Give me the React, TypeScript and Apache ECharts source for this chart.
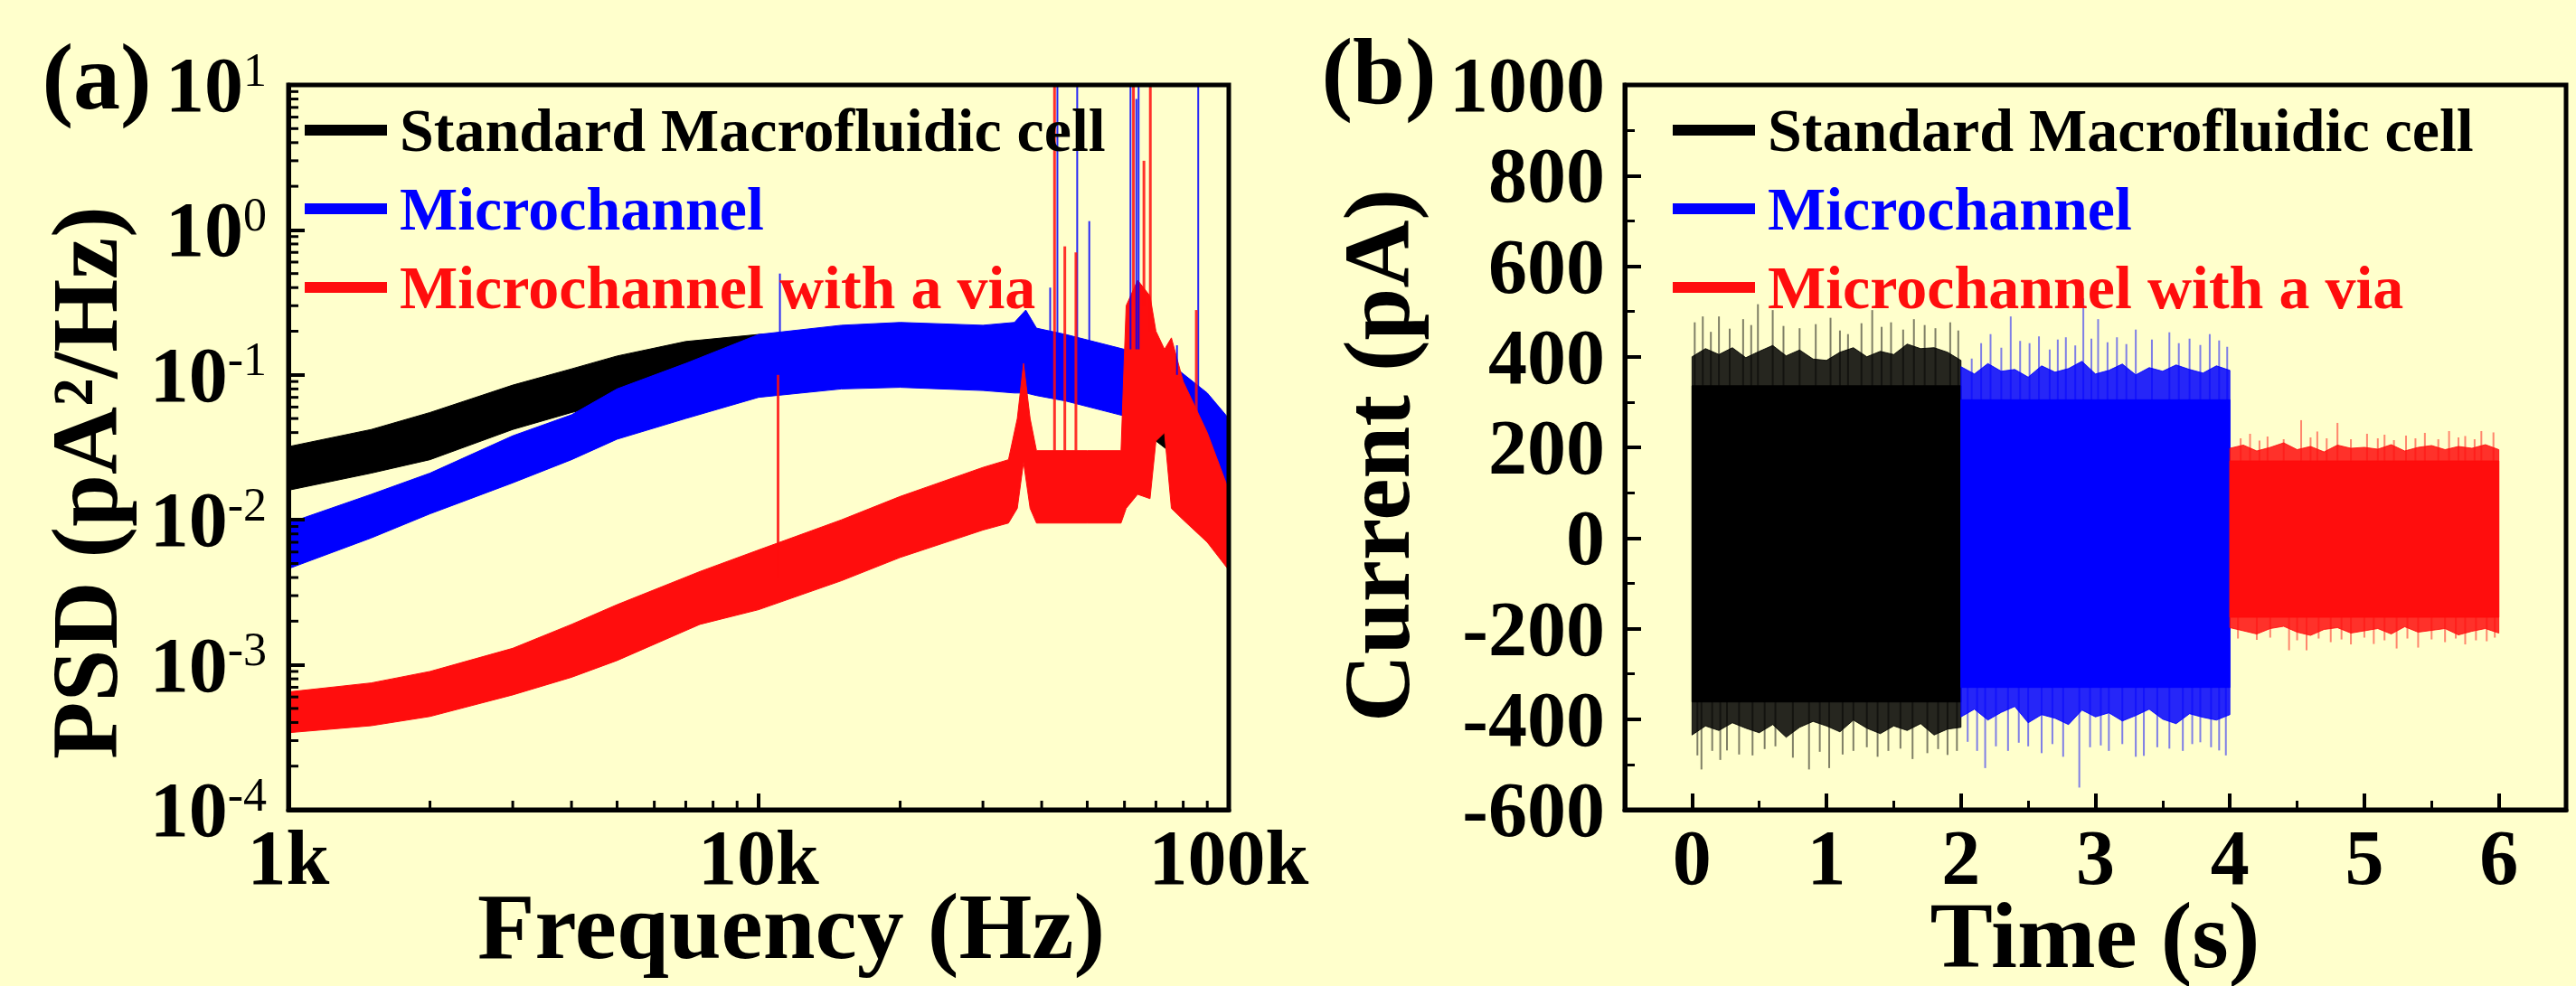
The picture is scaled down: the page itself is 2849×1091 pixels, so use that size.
import React, { useEffect, useRef } from 'react';
import * as echarts from 'echarts';

const BG = '#FFFFCC';
const SERIF = '"Liberation Serif", "Times New Roman", Times, serif';
const BLACK = '#000000';
const BLUE = '#0000FF';
const RED = '#FF0D0D';

const legendNames = ['Standard Macrofluidic cell', 'Microchannel', 'Microchannel with a via'];

// ---------- Panel (a): PSD bands (lower / upper envelope) ----------
const stdFreq = [1000, 1500, 2000, 3000, 4000, 5000, 7000, 10000, 15000, 20000, 30000, 40000, 50000, 60000, 70000, 80000, 90000, 100000];
const stdLow = [0.016, 0.021, 0.026, 0.042, 0.055, 0.065, 0.085, 0.095, 0.1, 0.1, 0.095, 0.09, 0.08, 0.065, 0.035, 0.025, 0.018, 0.012];
const stdHigh = [0.032, 0.042, 0.055, 0.085, 0.11, 0.135, 0.17, 0.19, 0.2, 0.2, 0.19, 0.17, 0.15, 0.13, 0.09, 0.06, 0.045, 0.03];

const mcFreq = [1000, 1500, 2000, 3000, 4000, 5000, 7000, 10000, 15000, 20000, 30000, 35000, 37000, 39000, 45000, 60000, 75000, 90000, 100000];
const mcLow = [0.0046, 0.0075, 0.011, 0.018, 0.026, 0.036, 0.05, 0.07, 0.08, 0.082, 0.078, 0.075, 0.075, 0.072, 0.066, 0.052, 0.039, 0.024, 0.015];
const mcHigh = [0.0095, 0.015, 0.021, 0.038, 0.053, 0.08, 0.12, 0.19, 0.22, 0.23, 0.22, 0.23, 0.28, 0.21, 0.19, 0.15, 0.12, 0.075, 0.05];

const viaFreq = [1000, 1500, 2000, 3000, 4000, 5000, 7500, 10000, 15000, 20000, 30000, 34000, 35500, 36600, 37800, 39000, 50000, 59000, 60500, 64000, 68000, 70000, 73000, 75500, 80000, 90000, 100000];
const viaLow = [0.00034, 0.00038, 0.00044, 0.00062, 0.00082, 0.00107, 0.0019, 0.0024, 0.0038, 0.0055, 0.0085, 0.0095, 0.012, 0.025, 0.012, 0.0095, 0.0095, 0.0095, 0.012, 0.015, 0.014, 0.035, 0.04, 0.012, 0.01, 0.007, 0.0045];
const viaHigh = [0.00065, 0.00075, 0.0009, 0.0013, 0.0019, 0.0026, 0.0044, 0.0062, 0.01, 0.0145, 0.023, 0.026, 0.05, 0.12, 0.05, 0.03, 0.03, 0.03, 0.3, 0.45, 0.35, 0.2, 0.15, 0.18, 0.09, 0.04, 0.016];

// narrow spectral spikes: [frequency, from, to]
const mcSpikes = [[11100, 0.1, 0.5], [41700, 0.15, 0.4], [43200, 0.15, 10], [47600, 0.15, 10], [50500, 0.15, 1.15], [61800, 0.15, 10], [63600, 0.15, 8], [64300, 0.15, 10], [77600, 0.1, 0.16], [86100, 0.06, 10]];
const viaSpikes = [[11000, 0.004, 0.1], [42600, 0.03, 10], [44800, 0.03, 0.77], [47300, 0.03, 0.7], [62700, 0.3, 10], [66000, 0.3, 3], [68100, 0.2, 10], [85300, 0.05, 0.28]];

const freqMinorTicks = [2000, 3000, 4000, 5000, 6000, 7000, 8000, 9000, 20000, 30000, 40000, 50000, 60000, 70000, 80000, 90000];
const psdMinorTicks = [
  0.0002, 0.0003, 0.0004, 0.0005, 0.0006, 0.0007, 0.0008, 0.0009,
  0.002, 0.003, 0.004, 0.005, 0.006, 0.007, 0.008, 0.009,
  0.02, 0.03, 0.04, 0.05, 0.06, 0.07, 0.08, 0.09,
  0.2, 0.3, 0.4, 0.5, 0.6, 0.7, 0.8, 0.9,
  2, 3, 4, 5, 6, 7, 8, 9,
];

// ---------- Panel (b): current traces ----------
const timeTicks = [0, 1, 2, 3, 4, 5, 6];
const timeMinorTicks = [0.5, 1.5, 2.5, 3.5, 4.5, 5.5];

const stdTime = [0, 0.1, 0.2, 0.3, 0.4, 0.5, 0.6, 0.7, 0.8, 0.9, 1.0, 1.1, 1.2, 1.3, 1.4, 1.5, 1.6, 1.7, 1.8, 1.9, 2.0];
const stdCore = [-362, 336];
const stdFuzzTop = [400, 418, 405, 420, 398, 412, 425, 402, 415, 395, 392, 410, 420, 400, 412, 405, 428, 418, 420, 410, 392];
const stdFuzzBottom = [-435, -415, -425, -408, -420, -430, -412, -440, -418, -405, -415, -428, -402, -420, -432, -415, -425, -410, -435, -422, -418];
const stdPeaksUp = [[0.02, 476], [0.08, 489], [0.14, 455], [0.2, 489], [0.28, 462], [0.38, 483], [0.44, 470], [0.49, 516], [0.6, 503], [0.68, 468], [0.8, 463], [0.92, 472], [1.03, 486], [1.1, 458], [1.16, 450], [1.26, 474], [1.34, 503], [1.41, 466], [1.48, 476], [1.57, 460], [1.65, 483], [1.73, 470], [1.81, 463], [1.92, 476], [1.98, 458]];
const stdPeaksDown = [[0.04, -480], [0.07, -511], [0.15, -470], [0.21, -490], [0.26, -469], [0.35, -478], [0.45, -480], [0.54, -466], [0.62, -460], [0.75, -485], [0.87, -511], [0.95, -472], [1.02, -508], [1.12, -478], [1.2, -470], [1.3, -462], [1.38, -483], [1.46, -470], [1.55, -465], [1.64, -488], [1.75, -475], [1.83, -466], [1.9, -479], [1.97, -470]];

const mcTime = [2.0, 2.1, 2.2, 2.3, 2.4, 2.5, 2.6, 2.7, 2.8, 2.9, 3.0, 3.1, 3.2, 3.3, 3.4, 3.5, 3.6, 3.7, 3.8, 3.9, 4.0];
const mcCore = [-330, 305];
const mcFuzzTop = [378, 362, 385, 368, 372, 355, 380, 366, 374, 390, 362, 370, 384, 360, 376, 368, 382, 372, 364, 380, 370];
const mcFuzzBottom = [-395, -378, -402, -385, -372, -408, -390, -398, -412, -380, -395, -386, -404, -392, -378, -400, -410, -388, -396, -402, -390];
const mcPeaksUp = [[2.08, 396], [2.15, 430], [2.22, 450], [2.3, 420], [2.37, 489], [2.44, 435], [2.51, 430], [2.58, 445], [2.66, 416], [2.72, 438], [2.78, 443], [2.85, 425], [2.91, 529], [2.97, 440], [3.02, 483], [3.09, 432], [3.16, 443], [3.23, 428], [3.3, 460], [3.42, 438], [3.55, 454], [3.62, 430], [3.7, 440], [3.78, 426], [3.85, 450], [3.92, 436], [3.98, 422]];
const mcPeaksDown = [[2.05, -450], [2.12, -470], [2.18, -508], [2.26, -460], [2.35, -470], [2.43, -452], [2.5, -460], [2.6, -475], [2.68, -455], [2.76, -483], [2.88, -551], [2.96, -462], [3.04, -458], [3.1, -470], [3.2, -455], [3.3, -483], [3.36, -481], [3.46, -462], [3.55, -465], [3.65, -470], [3.72, -455], [3.78, -451], [3.86, -462], [3.92, -469], [3.97, -480]];

const viaTime = [4.0, 4.1, 4.2, 4.3, 4.4, 4.5, 4.6, 4.7, 4.8, 4.9, 5.0, 5.1, 5.2, 5.3, 5.4, 5.5, 5.6, 5.7, 5.8, 5.9, 6.0];
const viaCore = [-175, 170];
const viaFuzzTop = [198, 205, 192, 200, 210, 195, 202, 190, 205, 198, 200, 196, 206, 192, 200, 204, 195, 202, 198, 206, 195];
const viaFuzzBottom = [-198, -205, -212, -200, -195, -208, -215, -202, -198, -210, -205, -200, -212, -196, -208, -204, -200, -214, -206, -200, -210];
const viaPeaksUp = [[4.08, 220], [4.15, 230], [4.22, 215], [4.28, 224], [4.4, 218], [4.53, 260], [4.6, 222], [4.65, 235], [4.72, 220], [4.8, 254], [4.9, 218], [5.02, 230], [5.1, 220], [5.15, 228], [5.22, 216], [5.31, 226], [5.38, 220], [5.45, 232], [5.55, 218], [5.63, 236], [5.7, 222], [5.75, 225], [5.82, 218], [5.87, 236], [5.96, 233]];
const viaPeaksDown = [[4.06, -222], [4.2, -225], [4.3, -220], [4.44, -248], [4.5, -226], [4.57, -248], [4.66, -222], [4.75, -230], [4.83, -224], [4.9, -235], [5.0, -220], [5.07, -234], [5.15, -226], [5.24, -244], [5.32, -222], [5.4, -242], [5.5, -224], [5.6, -230], [5.68, -222], [5.75, -235], [5.83, -226], [5.91, -228], [5.97, -220]];

// ---------- render helpers ----------
function bandRender(color: string, opacity: number) {
  return (params: any, api: any) => {
    if (params.dataIndexInside !== 0) return null;
    const n = params.dataInsideLength;
    const top: number[][] = [];
    const bot: number[][] = [];
    for (let i = 0; i < n; i++) {
      const x = api.value(0, i);
      top.push(api.coord([x, api.value(2, i)]));
      bot.push(api.coord([x, api.value(1, i)]));
    }
    return {
      type: 'polygon',
      silent: true,
      shape: { points: top.concat(bot.reverse()) },
      style: { fill: color, opacity, stroke: color, lineWidth: 1 },
    };
  };
}

function spikeRender(color: string, width: number, opacity: number) {
  return (params: any, api: any) => {
    const a = api.coord([api.value(0), api.value(1)]);
    const b = api.coord([api.value(0), api.value(2)]);
    return {
      type: 'line',
      silent: true,
      shape: { x1: a[0], y1: a[1], x2: b[0], y2: b[1] },
      style: { stroke: color, lineWidth: width, opacity },
    };
  };
}

function tickRender(dx: number, dy: number) {
  return (params: any, api: any) => {
    const p = api.coord([api.value(0), api.value(1)]);
    return {
      type: 'line',
      silent: true,
      z2: 100,
      shape: { x1: p[0], y1: p[1], x2: p[0] + dx, y2: p[1] + dy },
      style: { stroke: '#000', lineWidth: 3 },
    };
  };
}

const bandData = (x: number[], lo: number[], hi: number[]) => x.map((v, i) => [v, lo[i], hi[i]]);

function bandSeries(name: string, gi: number, data: number[][], color: string, opacity: number, clip = true) {
  return {
    type: 'custom', name, xAxisIndex: gi, yAxisIndex: gi, clip,
    renderItem: bandRender(color, opacity), data, animation: false, z: 2,
  };
}
function spikeSeries(name: string, gi: number, data: number[][], color: string, width: number, opacity: number) {
  return {
    type: 'custom', name, xAxisIndex: gi, yAxisIndex: gi, clip: true,
    renderItem: spikeRender(color, width, opacity), data, animation: false, z: 3,
  };
}
function traceSeries(name: string, time: number[], core: number[], fTop: number[], fBot: number[], up: number[][], down: number[][], color: string) {
  const t0 = time[0];
  const t1 = time[time.length - 1];
  return [
    bandSeries(name, 1, bandData(time, fBot, fTop), color, 0.85),
    bandSeries(name, 1, [[t0, core[0], core[1]], [t1, core[0], core[1]]], color, 1),
    spikeSeries(name + ' peaks', 1, up.map(([t, v]) => [t, core[1], v]), color, 2, 0.5),
    spikeSeries(name + ' peaks', 1, down.map(([t, v]) => [t, core[0], v]), color, 2, 0.5),
  ];
}

const labelFont = { fontFamily: SERIF, fontWeight: 'bold' as const, fontSize: 86, color: '#000' };
const titleFont = { fontFamily: SERIF, fontWeight: 'bold' as const, fontSize: 104, fill: '#000', lineHeight: 80 };

function legendFor(left: number) {
  const colors = [BLACK, BLUE, RED];
  return {
    orient: 'vertical', left, top: 105, itemWidth: 91, itemHeight: 12, itemGap: 19, icon: 'rect',
    selectedMode: false,
    textStyle: { fontFamily: SERIF, fontWeight: 'bold', fontSize: 68, lineHeight: 64, padding: [0, 0, 0, 9] },
    data: legendNames.map((n, i) => ({ name: n, icon: 'rect', itemStyle: { color: colors[i] }, textStyle: { color: colors[i] } })),
  };
}

const option: any = {
  animation: false,
  backgroundColor: BG,
  grid: [
    { left: 319, top: 94, width: 1040, height: 802, show: true, borderColor: '#000', borderWidth: 5, backgroundColor: 'transparent', z: 10 },
    { left: 1797, top: 94, width: 1041, height: 802, show: true, borderColor: '#000', borderWidth: 5, backgroundColor: 'transparent', z: 10 },
  ],
  legend: [legendFor(332), legendFor(1845)],
  xAxis: [
    {
      gridIndex: 0, type: 'log', logBase: 10, min: 1000, max: 100000, z: 10,
      axisLine: { show: true, onZero: false, lineStyle: { color: '#000', width: 5 } },
      axisTick: { show: true, inside: true, length: 18, lineStyle: { color: '#000', width: 4 } },
      axisLabel: { ...labelFont, lineHeight: 66, margin: 20, showMinLabel: true, showMaxLabel: true, formatter: (v: number) => (v >= 1000 ? `${Math.round(v / 1000)}k` : `${v}`) },
      splitLine: { show: false },
    },
    {
      gridIndex: 1, type: 'value', min: -0.5, max: 6.5, z: 10,
      axisLine: { show: true, onZero: false, lineStyle: { color: '#000', width: 5 } },
      axisTick: { show: true, inside: true, length: 18, lineStyle: { color: '#000', width: 4 }, customValues: timeTicks },
      axisLabel: { ...labelFont, lineHeight: 66, margin: 20, customValues: timeTicks, formatter: (v: number) => String(v) },
      splitLine: { show: false },
    },
    {
      gridIndex: 1, type: 'value', min: -0.5, max: 6.5, position: 'bottom', z: 10,
      axisLine: { show: false, onZero: false },
      axisTick: { show: true, inside: true, length: 10, lineStyle: { color: '#000', width: 3 }, customValues: timeMinorTicks },
      axisLabel: { show: false, customValues: timeMinorTicks },
      splitLine: { show: false },
    },
  ],
  yAxis: [
    {
      gridIndex: 0, type: 'log', logBase: 10, min: 0.0001, max: 10, z: 10,
      axisLine: { show: true, onZero: false, lineStyle: { color: '#000', width: 5 } },
      axisTick: { show: true, inside: true, length: 18, lineStyle: { color: '#000', width: 4 } },
      axisLabel: {
        margin: 24, showMinLabel: true, showMaxLabel: true,
        formatter: (v: number) => `{b|10}{s|${Math.round(Math.log10(v))}}`,
        rich: {
          b: { ...labelFont, lineHeight: 86 },
          s: { fontFamily: SERIF, fontWeight: 'normal', fontSize: 52, color: '#000', verticalAlign: 'top', lineHeight: 86 },
        },
      },
      splitLine: { show: false },
    },
    {
      gridIndex: 1, type: 'value', min: -600, max: 1000, interval: 200, z: 10,
      axisLine: { show: true, onZero: false, lineStyle: { color: '#000', width: 5 } },
      axisTick: { show: true, inside: true, length: 18, lineStyle: { color: '#000', width: 4 } },
      minorTick: { show: true, splitNumber: 2, length: 11, lineStyle: { color: '#000', width: 3 } },
      axisLabel: { ...labelFont, margin: 22, formatter: (v: number) => String(v) },
      splitLine: { show: false },
      minorSplitLine: { show: false },
    },
  ],
  series: [
    bandSeries(legendNames[0], 0, bandData(stdFreq, stdLow, stdHigh), BLACK, 1),
    bandSeries(legendNames[1], 0, bandData(mcFreq, mcLow, mcHigh), BLUE, 1),
    bandSeries(legendNames[2], 0, bandData(viaFreq, viaLow, viaHigh), RED, 1),
    spikeSeries('mc spikes', 0, mcSpikes, BLUE, 2, 0.85),
    spikeSeries('via spikes', 0, viaSpikes, RED, 3, 0.85),
    {
      type: 'custom', name: 'x minor ticks', xAxisIndex: 0, yAxisIndex: 0, clip: false, z: 20,
      renderItem: tickRender(0, -10), data: freqMinorTicks.map((f) => [f, 0.0001]),
    },
    {
      type: 'custom', name: 'y minor ticks', xAxisIndex: 0, yAxisIndex: 0, clip: false, z: 20,
      renderItem: tickRender(11, 0), data: psdMinorTicks.map((v) => [1000, v]),
    },
    ...traceSeries(legendNames[0], stdTime, stdCore, stdFuzzTop, stdFuzzBottom, stdPeaksUp, stdPeaksDown, BLACK),
    ...traceSeries(legendNames[1], mcTime, mcCore, mcFuzzTop, mcFuzzBottom, mcPeaksUp, mcPeaksDown, BLUE),
    ...traceSeries(legendNames[2], viaTime, viaCore, viaFuzzTop, viaFuzzBottom, viaPeaksUp, viaPeaksDown, RED),
  ],
  graphic: [
    { type: 'text', x: 107, y: 84, style: { text: '(a)', ...titleFont, align: 'center', verticalAlign: 'middle' } },
    { type: 'text', x: 1525, y: 78, style: { text: '(b)', ...titleFont, align: 'center', verticalAlign: 'middle' } },
    { type: 'text', x: 875, y: 1024, style: { text: 'Frequency (Hz)', ...titleFont, align: 'center', verticalAlign: 'middle' } },
    { type: 'text', x: 2317, y: 1034, style: { text: 'Time (s)', ...titleFont, align: 'center', verticalAlign: 'middle' } },
    { type: 'text', x: 93, y: 534, rotation: Math.PI / 2, style: { text: 'PSD (pA²/Hz)', ...titleFont, align: 'center', verticalAlign: 'middle' } },
    { type: 'text', x: 1522, y: 504, rotation: Math.PI / 2, style: { text: 'Current (pA)', ...titleFont, align: 'center', verticalAlign: 'middle' } },
  ],
};

export default function App() {
  const ref = useRef<HTMLDivElement>(null);
  useEffect(() => {
    document.body.style.margin = '0';
    document.body.style.background = BG;
    const chart = echarts.init(ref.current as HTMLDivElement, null, { renderer: 'svg' });
    chart.setOption(option);
    return () => chart.dispose();
  }, []);
  return <div ref={ref} style={{ position: 'absolute', left: 0, top: 0, width: 2849, height: 1091 }} />;
}
